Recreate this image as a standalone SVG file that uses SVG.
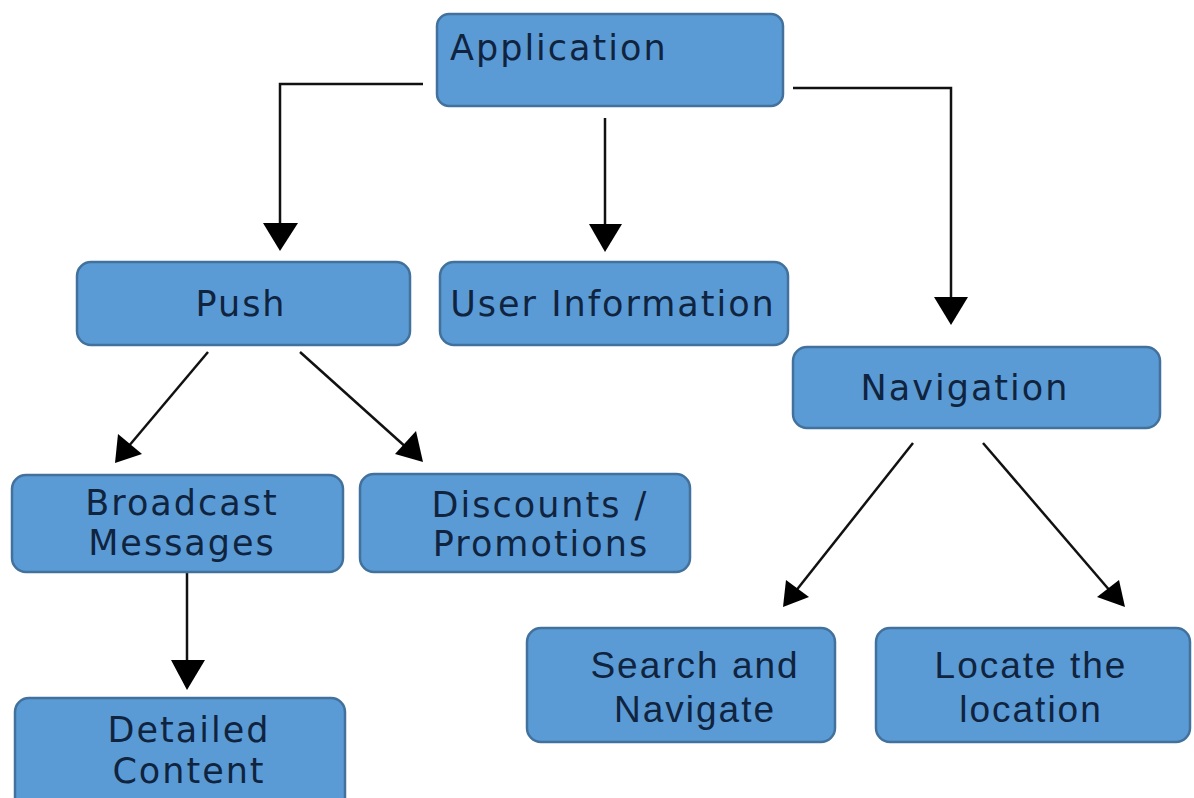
<svg xmlns="http://www.w3.org/2000/svg" width="1194" height="798" viewBox="0 0 1194 798">
<defs>
<style>
.box{fill:#5b9bd5;stroke:#41719c;stroke-width:2.5}
.t{font-family:"DejaVu Sans",Verdana,sans-serif;font-size:35px;fill:#10243f;text-anchor:middle;letter-spacing:2px}
.c{font-family:"Liberation Sans",Arial,sans-serif;font-size:37px;fill:#10243f;text-anchor:middle;letter-spacing:2px}
.ln{fill:none;stroke:#111;stroke-width:2.5}
.ar{fill:#000}
</style>
</defs>
<rect width="1194" height="798" fill="#fff"/>
<g id="connectors">
<polyline class="ln" points="423,84 280,84 280,228"/>
<polygon class="ar" points="263,223 298,223 280,251"/>
<line class="ln" x1="605" y1="118" x2="605" y2="228"/>
<polygon class="ar" points="589,224 622,224 605,252"/>
<polyline class="ln" points="793,88 951,88 951,300"/>
<polygon class="ar" points="934,297 968,297 951,325"/>
<line class="ln" x1="208" y1="352" x2="128" y2="447"/>
<polygon class="ar" points="115,463 118,434 142,454"/>
<line class="ln" x1="300" y1="352" x2="408" y2="449"/>
<polygon class="ar" points="423,462 395,454 416,431"/>
<line class="ln" x1="187" y1="573" x2="187" y2="664"/>
<polygon class="ar" points="171,660 205,660 187,690"/>
<line class="ln" x1="913" y1="443" x2="795" y2="592"/>
<polygon class="ar" points="783,607 786,580 809,597"/>
<line class="ln" x1="983" y1="443" x2="1111" y2="592"/>
<polygon class="ar" points="1125,607 1097,597 1119,580"/>
</g>
<g id="application"><rect class="box" x="437" y="14" width="346" height="92" rx="12"/><text class="t" x="450" y="60" style="text-anchor:start">Application</text></g>
<g id="push"><rect class="box" x="77" y="262" width="333" height="83" rx="14"/><text class="t" x="241" y="316">Push</text></g>
<g id="user-information"><rect class="box" x="440" y="262" width="348" height="83" rx="14"/><text class="t" x="613" y="316">User Information</text></g>
<g id="navigation"><rect class="box" x="793" y="347" width="367" height="81" rx="14"/><text class="t" x="965" y="400">Navigation</text></g>
<g id="broadcast"><rect class="box" x="12" y="475" width="331" height="97" rx="14"/><text class="t" x="182" y="515">Broadcast</text><text class="t" x="182" y="555">Messages</text></g>
<g id="discounts"><rect class="box" x="360" y="474" width="330" height="98" rx="14"/><text class="t" x="540" y="517">Discounts /</text><text class="t" x="541" y="556">Promotions</text></g>
<g id="detailed"><rect class="box" x="15" y="698" width="330" height="120" rx="14"/><text class="t" x="189" y="742">Detailed</text><text class="t" x="189" y="783">Content</text></g>
<g id="search"><rect class="box" x="527" y="628" width="308" height="114" rx="14"/><text class="c" x="695" y="678">Search and</text><text class="c" x="695" y="722">Navigate</text></g>
<g id="locate"><rect class="box" x="876" y="628" width="314" height="114" rx="14"/><text class="c" x="1031" y="678">Locate the</text><text class="c" x="1031" y="722">location</text></g>
</svg>
